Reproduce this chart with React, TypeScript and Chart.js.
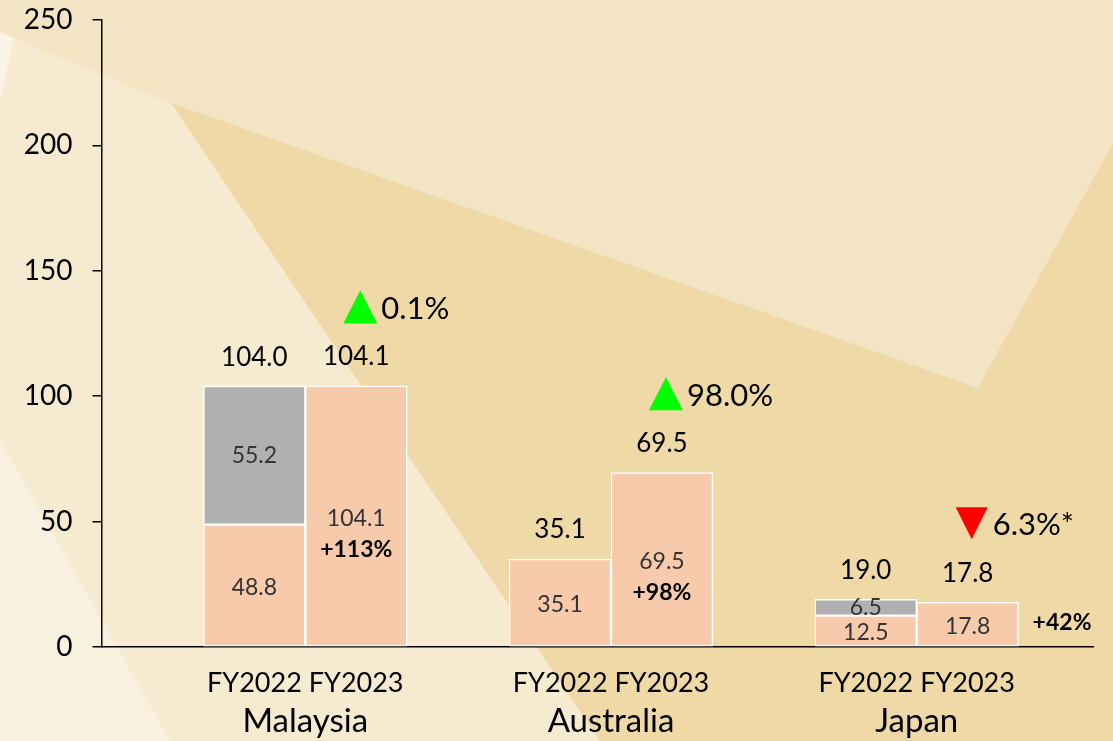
import React, { useEffect, useRef } from "react";
import { Chart, registerables } from "chart.js";

Chart.register(...registerables);

// ---------- data ----------
const countries = ["Malaysia", "Australia", "Japan"];
const years = ["FY2022", "FY2023"];
const peachValues = [48.8, 104.1, 35.1, 69.5, 12.5, 17.8];
const grayValues: (number | null)[] = [55.2, null, null, null, 6.5, null];
const totalLabels = ["104.0", "104.1", "35.1", "69.5", "19.0", "17.8"];
const changeLabels = ["0.1%", "98.0%", "6.3%*"];
const changeUp = [true, true, false];
const growthLabels = ["+113%", "+98%", "+42%"];
const yTickValues = [0, 50, 100, 150, 200, 250];

const FONT = "Lato, 'Open Sans', sans-serif";
const X_MAX = 9.73;

// slot position of a bar on the linear index axis (group * 3 + year offset)
const slotX = (i: number) => Math.floor(i / 2) * 3 + 1.5 + (i % 2);

const backgroundPlugin = {
  id: "bgShapes",
  beforeDraw(chart: any) {
    const { ctx, width, height } = chart;
    ctx.save();
    ctx.fillStyle = "#efd9a7";
    ctx.fillRect(0, 0, width, height);
    const poly = (pts: number[][], color: string) => {
      ctx.beginPath();
      ctx.moveTo(pts[0][0], pts[0][1]);
      for (let k = 1; k < pts.length; k++) ctx.lineTo(pts[k][0], pts[k][1]);
      ctx.closePath();
      ctx.fillStyle = color;
      ctx.fill();
    };
    // top light band
    poly([[0, 0], [width, 0], [width, 143], [978, 388], [171, 103], [0, 32]], "#f3e5c3");
    // left light region
    poly([[0, 32], [171, 103], [600, height], [0, height]], "#f6ead0");
    // far-left lighter wedges
    poly([[0, 440], [170, height], [0, height]], "#f9f1e0");
    poly([[0, 32], [14, 38], [0, 100]], "#faf4e6");
    ctx.restore();
  },
};

const labelPlugin = {
  id: "barLabels",
  afterDatasetsDraw(chart: any) {
    const ctx = chart.ctx;
    const pm = chart.getDatasetMeta(0);
    const gm = chart.getDatasetMeta(1);
    ctx.save();
    ctx.textBaseline = "middle";
    peachValues.forEach((v, i) => {
      const p = pm.data[i];
      if (!p) return;
      const grp = Math.floor(i / 2);
      const isLater = i % 2 === 1;
      const mid = (p.y + p.base) / 2;
      const growthInside = isLater && p.base - p.y > 80;

      ctx.textAlign = "center";
      ctx.font = `23px ${FONT}`;
      ctx.fillStyle = "#333333";
      ctx.fillText(v.toFixed(1), p.x, mid + 2);

      if (isLater) {
        ctx.font = `bold 23px ${FONT}`;
        ctx.fillStyle = "#000";
        if (growthInside) {
          ctx.fillText(growthLabels[grp], p.x, mid + 33);
        } else {
          ctx.textAlign = "left";
          ctx.fillText(growthLabels[grp], p.x + p.width / 2 + 14, mid - 2);
          ctx.textAlign = "center";
        }
      }

      let top = p.y;
      const gv = grayValues[i];
      const g = gm.data[i];
      if (gv != null && g) {
        const gmid = (g.y + g.base) / 2;
        ctx.font = `23px ${FONT}`;
        ctx.fillStyle = "#333333";
        ctx.fillText(gv.toFixed(1), g.x, gmid);
        top = Math.min(top, g.y);
      }

      ctx.font = `26px ${FONT}`;
      ctx.fillStyle = "#000";
      ctx.fillText(totalLabels[i], p.x, top - 29);

      if (isLater) {
        const cx = p.x + 4;
        const cy = top - 79;
        ctx.beginPath();
        if (changeUp[grp]) {
          ctx.moveTo(cx - 17, cy + 16.5);
          ctx.lineTo(cx + 17, cy + 16.5);
          ctx.lineTo(cx, cy - 16.5);
          ctx.fillStyle = "#00ff00";
        } else {
          ctx.moveTo(cx - 16, cy - 16);
          ctx.lineTo(cx + 16, cy - 16);
          ctx.lineTo(cx, cy + 16);
          ctx.fillStyle = "#ff0000";
        }
        ctx.closePath();
        ctx.fill();
        ctx.textAlign = "left";
        ctx.font = `31px ${FONT}`;
        ctx.fillStyle = "#000";
        ctx.fillText(changeLabels[grp], cx + 21, cy + 2);
      }
    });
    ctx.restore();
  },
};

export default function App() {
  const canvasRef = useRef<HTMLCanvasElement | null>(null);

  useEffect(() => {
    let chart: Chart | null = null;
    let cancelled = false;
    const build = () => {
      if (cancelled || !canvasRef.current) return;
      chart = new Chart(canvasRef.current, {
        type: "bar",
        data: {
          datasets: [
            {
              label: "Peach",
              data: peachValues.map((v, i) => ({ x: slotX(i), y: v })),
              backgroundColor: "#f7caab",
              borderColor: "#ffffff",
              borderWidth: 1.5,
              borderSkipped: false,
              stack: "s",
              categoryPercentage: 1,
              barPercentage: 1,
            },
            {
              label: "Gray",
              data: grayValues.map((v, i) => ({ x: slotX(i), y: v })),
              backgroundColor: "#b0b0b0",
              borderColor: "#ffffff",
              borderWidth: 1.5,
              borderSkipped: false,
              stack: "s",
              categoryPercentage: 1,
              barPercentage: 1,
            },
          ] as any,
        },
        options: {
          animation: false,
          responsive: false,
          layout: { padding: { top: 20, right: 20, left: 0, bottom: 0 } },
          plugins: { legend: { display: false }, tooltip: { enabled: false } },
          scales: {
            x: {
              type: "linear",
              position: "bottom",
              min: 0,
              max: X_MAX,
              offset: false,
              stacked: true,
              weight: 0,
              grid: { display: false, drawTicks: false },
              border: { display: true, color: "#000", width: 1.5 },
              afterBuildTicks: (s: any) => {
                s.ticks = countries.map((_, g) => ({ value: 3 * g + 2 }));
              },
              afterFit: (s: any) => {
                s.height = 52;
                s.paddingLeft = 0;
                s.paddingRight = 0;
              },
              ticks: {
                autoSkip: false,
                maxRotation: 0,
                padding: 20,
                color: "#000",
                font: { family: FONT, size: 27 },
                callback: () => years.join(" "),
              },
            },
            x2: {
              type: "linear",
              position: "bottom",
              min: 0,
              max: X_MAX,
              offset: false,
              weight: 1,
              grid: { display: false, drawTicks: false },
              border: { display: false },
              afterBuildTicks: (s: any) => {
                s.ticks = countries.map((_, g) => ({ value: 3 * g + 2 }));
              },
              afterFit: (s: any) => {
                s.height = 42;
                s.paddingLeft = 0;
                s.paddingRight = 0;
              },
              ticks: {
                autoSkip: false,
                maxRotation: 0,
                padding: 3,
                color: "#000",
                font: { family: FONT, size: 33 },
                callback: (_v: any, idx: number) => countries[idx],
              },
            },
            y: {
              type: "linear",
              min: 0,
              max: 250,
              stacked: true,
              afterBuildTicks: (s: any) => {
                s.ticks = yTickValues.map((v) => ({ value: v }));
              },
              afterFit: (s: any) => {
                s.width = 101.5;
                s.paddingTop = 0;
                s.paddingBottom = 0;
              },
              grid: {
                display: true,
                drawOnChartArea: false,
                drawTicks: true,
                tickLength: 9,
                color: "#000",
                lineWidth: 1.5,
              },
              border: { display: true, color: "#000", width: 1.5 },
              ticks: {
                padding: 20,
                color: "#000",
                font: { family: FONT, size: 28 },
              },
            },
          },
        },
        plugins: [backgroundPlugin, labelPlugin],
      } as any);
    };
    const fontsReady = (document as any).fonts
      ? Promise.all([
          (document as any).fonts.load(`25px Lato`),
          (document as any).fonts.load(`bold 22px Lato`),
        ]).catch(() => null)
      : Promise.resolve(null);
    fontsReady.then(build);
    return () => {
      cancelled = true;
      if (chart) chart.destroy();
    };
  }, []);

  return (
    <div style={{ position: "fixed", left: 0, top: 0, width: 1113, height: 741 }}>
      <canvas ref={canvasRef} width={1113} height={741} style={{ display: "block" }} />
    </div>
  );
}
